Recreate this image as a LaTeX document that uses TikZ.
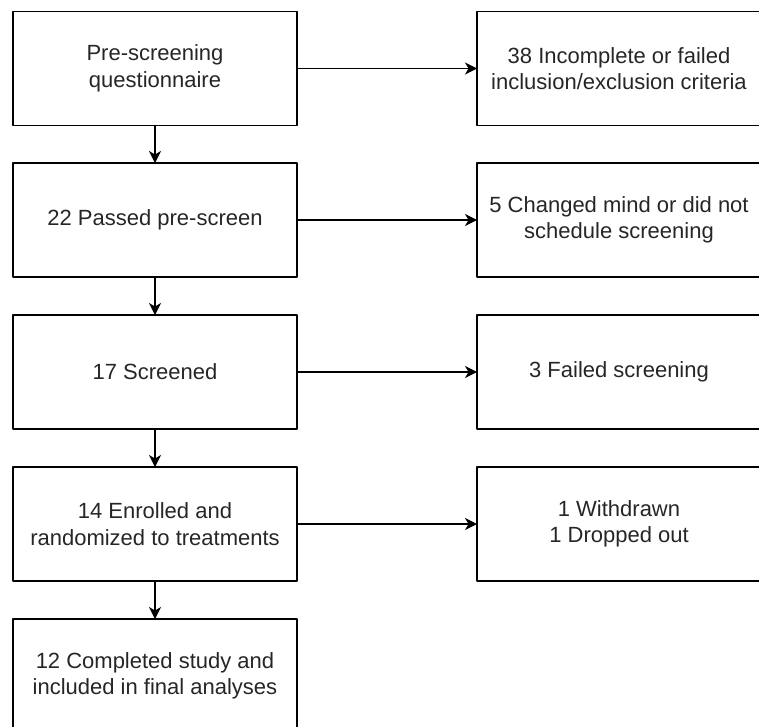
\documentclass[tikz,border=0pt]{standalone}
\usepackage{fontspec}
\setmainfont{Liberation Sans}
\usetikzlibrary{arrows.meta}

\begin{document}
\begin{tikzpicture}[
  x=1pt, y=-1pt,
  line cap=round,
  line join=round,
  stepbox/.style={draw, line width=1.4pt, minimum width=284pt, minimum height=114pt,
    align=center, inner sep=0pt, outer sep=0pt, text=black!85,
    font=\fontsize{22}{26.4}\selectfont},
  flow/.style={line width=1.4pt, -{Stealth[length=12pt,width=12pt,inset=3.5pt]}}
]
  \useasboundingbox (0,0) rectangle (759,726);

  % Main column
  \node[stepbox] (pre)       at (155,68.5) {Pre-screening\\questionnaire};
  \node[stepbox] (passed)    at (155,220)  {22 Passed pre-screen};
  \node[stepbox] (screened)  at (155,372)  {17 Screened};
  \node[stepbox] (enrolled)  at (155,524)  {14 Enrolled and\\randomized to treatments};
  \node[stepbox] (completed) at (155,676)  {12 Completed study and\\included in final analyses};

  % Exclusions
  \node[stepbox] (excl)    at (619,68.5) {38 Incomplete or failed\\inclusion/exclusion criteria};
  \node[stepbox] (changed) at (619,220)  {5 Changed mind or did not\\schedule screening};
  \node[stepbox] (failed)  at (619,372)  {3 Failed screening};
  \node[stepbox] (dropped) at (619,524)  {1 Withdrawn\\1 Dropped out};

  % Down
  \draw[flow] (pre)--(passed);
  \draw[flow] (passed)--(screened);
  \draw[flow] (screened)--(enrolled);
  \draw[flow] (enrolled)--(completed);

  % Across
  \draw[flow] (pre)--(excl);
  \draw[flow] (passed)--(changed);
  \draw[flow] (screened)--(failed);
  \draw[flow] (enrolled)--(dropped);
\end{tikzpicture}
\end{document}
